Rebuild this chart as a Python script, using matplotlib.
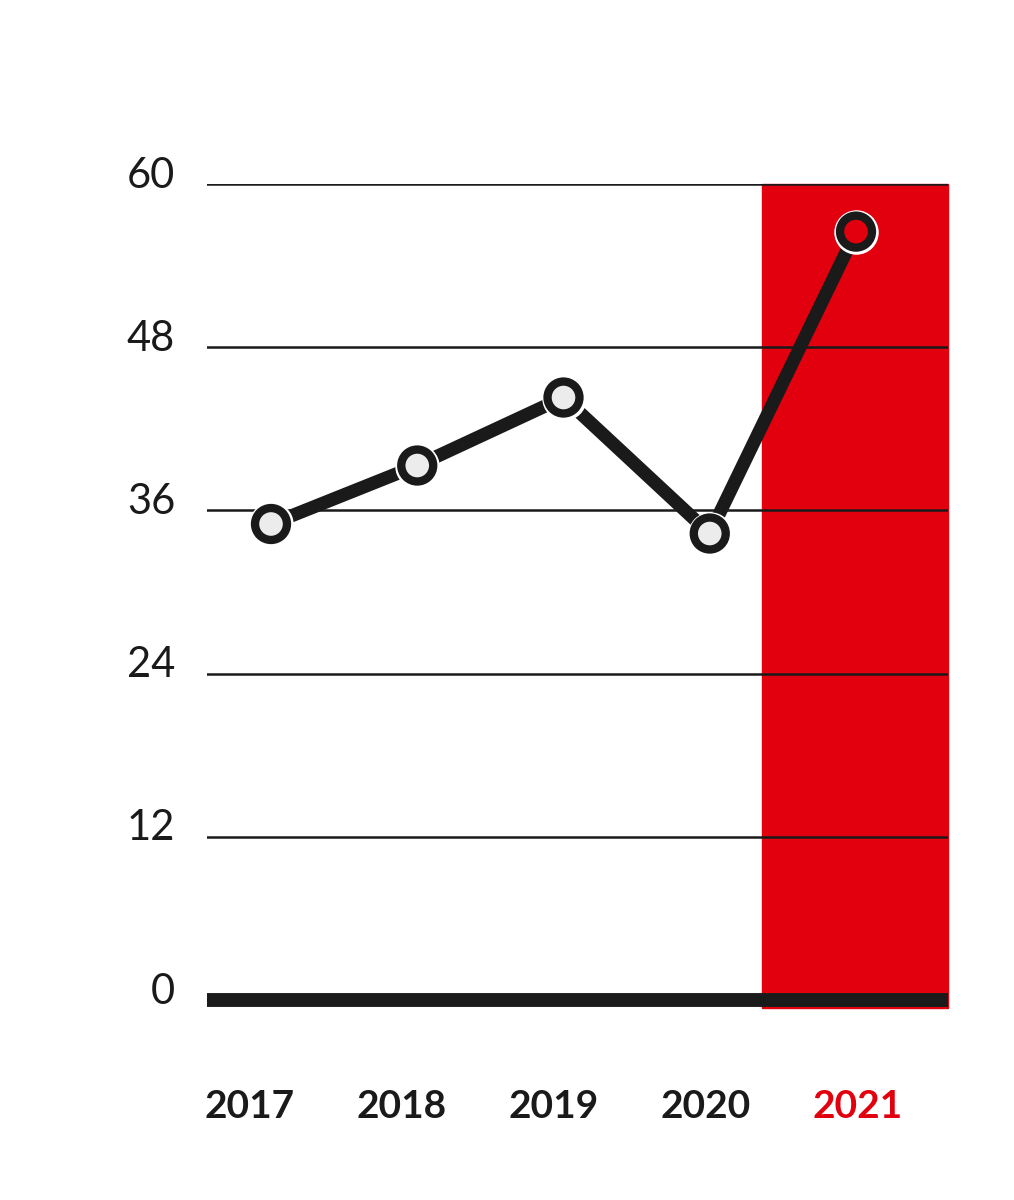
import numpy as np
import matplotlib.pyplot as plt
import matplotlib.transforms as mtransforms

years = ["2017", "2018", "2019", "2020", "2021"]
values = [35.0, 39.3, 44.3, 34.3, 56.5]
y_ticks = [0, 12, 24, 36, 48, 60]

RED = "#e2000f"
BLACK = "#1a1a1a"

x = np.arange(len(years))

fig = plt.figure(figsize=(10.14, 12), dpi=100)
ax = fig.add_axes([207 / 1014, 1 - 1000 / 1200, (948 - 207) / 1014, 816 / 1200])

ax.set_xlim(-0.4376, 4.629)
ax.set_ylim(0, 60)

# red highlight for the latest year
ax.axvspan(3.357, 4.629, ymin=-0.01, ymax=1, color=RED, zorder=0, clip_on=False)

for t in y_ticks[1:]:
    ax.axhline(t, color=BLACK, lw=1.8, zorder=1)
ax.axhline(0, color=BLACK, lw=10, zorder=1, clip_on=False, solid_capstyle="butt")

ax.plot(x, values, color=BLACK, lw=9.5, zorder=3, solid_capstyle="butt")
face = ["#ececec"] * (len(years) - 1) + [RED]
ax.scatter(x, values, s=32**2, color="white", zorder=4, linewidths=0, clip_on=False)
ax.scatter(x, values, s=23**2, facecolors=face, edgecolors=BLACK, linewidths=6, zorder=5, clip_on=False)

for s in ax.spines.values():
    s.set_visible(False)

ax.set_yticks(y_ticks)
ax.set_yticklabels([str(t) for t in y_ticks], fontsize=30, family="Lato", color=BLACK)
ax.tick_params(axis="y", length=0, pad=23)
off = mtransforms.ScaledTranslation(0, 12 / 100, fig.dpi_scale_trans)
for lab in ax.get_yticklabels():
    lab.set_transform(lab.get_transform() + off)

# year labels sit on a slightly wider spacing than the points
ax.set_xticks([])
sec = ax.secondary_xaxis("bottom", functions=(lambda d: (146.25 * d + 21) / 152,
                                              lambda u: (152 * u - 21) / 146.25))
sec.set_xticks(x)
sec.set_xticklabels(years, fontsize=28, family="Lato", fontweight="bold", color=BLACK)
sec.tick_params(axis="x", length=0, pad=64)
sec.spines["bottom"].set_visible(False)
sec.get_xticklabels()[-1].set_color(RED)

fig.savefig("out.png", dpi=100)
plt.close("all")
